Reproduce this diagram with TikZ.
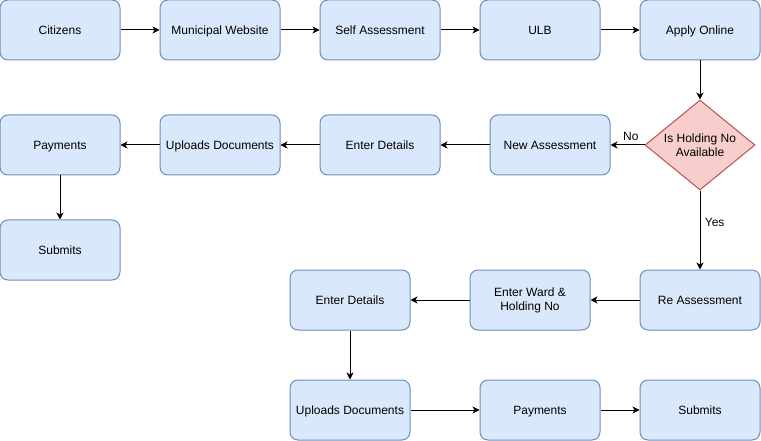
\documentclass[tikz,border=0pt]{standalone}
\usepackage{fontspec}
\setmainfont{Liberation Sans}
\usetikzlibrary{shapes.geometric,arrows.meta}
\definecolor{boxfill}{HTML}{DAE8FC}
\definecolor{boxline}{HTML}{6C8EBF}
\definecolor{decfill}{HTML}{F8CECC}
\definecolor{decline}{HTML}{B85450}
\begin{document}
\begin{tikzpicture}[x=1pt,y=-1pt,font=\fontsize{12}{14}\selectfont]
        % Define styles for the nodes and arrows
        \tikzset{
          proc/.style={rectangle,rounded corners=8pt,draw=boxline,fill=boxfill,line width=1pt,
            minimum width=120pt,minimum height=60pt,align=center,inner sep=2pt,
            text height=8.6pt,text depth=0pt},
          decide/.style={diamond,draw=decline,fill=decfill,line width=1pt,aspect=1.22,
            minimum width=110pt,minimum height=90pt,align=center,inner sep=0pt},
          flow/.style={-{Stealth[length=7pt,width=7pt,inset=2pt]},line width=1pt}
        }
        \useasboundingbox (0,0) rectangle (761,441);

        % First row
        \node[proc] (citizens) at (60,30) {Citizens};
        \node[proc] (website) at (220,30) {Municipal Website};
        \node[proc] (selfassess) at (380,30) {Self Assessment};
        \node[proc] (ulb) at (540,30) {ULB};
        \node[proc] (online) at (700,30) {Apply Online};

        % Decision and the new assessment row
        \node[decide] (holding) at (700,145) {Is Holding No\\Available};
        \node[proc] (newassess) at (550,145) {New Assessment};
        \node[proc] (details) at (380,145) {Enter Details};
        \node[proc] (uploads) at (220,145) {Uploads Documents};
        \node[proc] (payments) at (60,145) {Payments};
        \node[proc] (submits) at (60,250) {Submits};

        % Re assessment branch
        \node[proc] (reassess) at (700,300) {Re Assessment};
        \node[proc,text height=,text depth=] (ward) at (530,300) {Enter Ward \&\\Holding No};
        \node[proc] (details2) at (350,300) {Enter Details};
        \node[proc] (uploads2) at (350,410) {Uploads Documents};
        \node[proc] (payments2) at (540,410) {Payments};
        \node[proc] (submits2) at (700,410) {Submits};

        % Connect the nodes
        \draw[flow] (citizens) -- (website);
        \draw[flow] (website) -- (selfassess);
        \draw[flow] (selfassess) -- (ulb);
        \draw[flow] (ulb) -- (online);
        \draw[flow] (online) -- (holding);
        \draw[flow] (holding) -- node[pos=0.4,above=1pt] {No} (newassess);
        \draw[flow] (newassess) -- (details);
        \draw[flow] (details) -- (uploads);
        \draw[flow] (uploads) -- (payments);
        \draw[flow] (payments) -- (submits);
        \draw[flow] (holding) -- node[pos=0.4,right=1pt] {Yes} (reassess);
        \draw[flow] (reassess) -- (ward);
        \draw[flow] (ward) -- (details2);
        \draw[flow] (details2) -- (uploads2);
        \draw[flow] (uploads2) -- (payments2);
        \draw[flow] (payments2) -- (submits2);
\end{tikzpicture}
\end{document}
